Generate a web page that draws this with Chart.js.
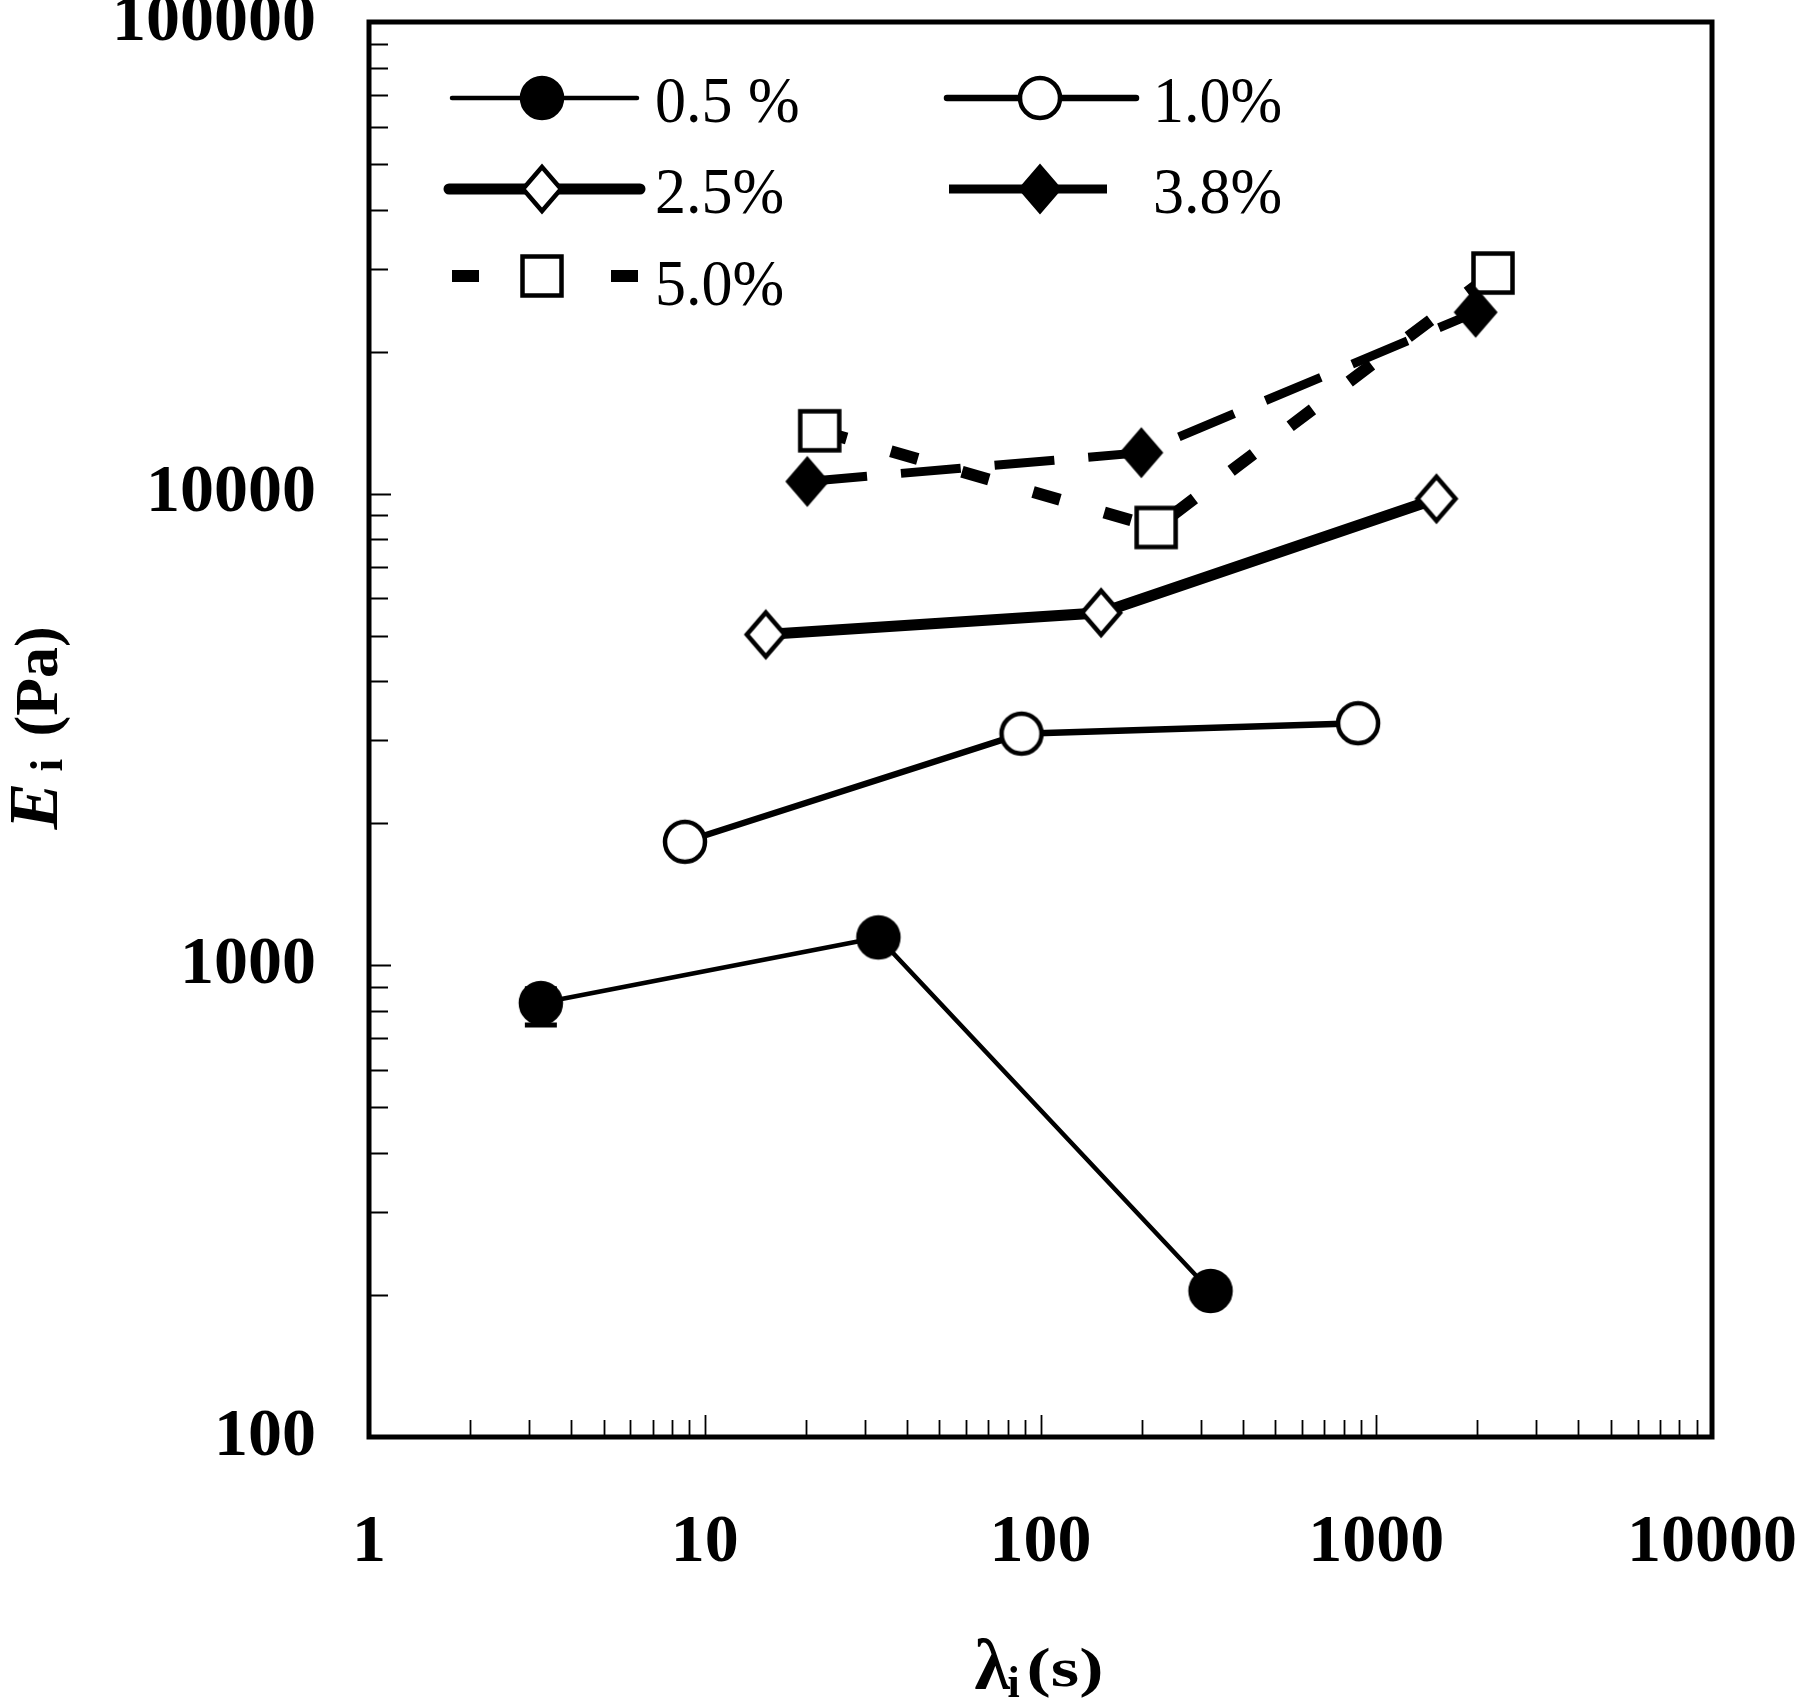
<!DOCTYPE html>
<html>
<head>
<meta charset="utf-8">
<script src="https://cdn.jsdelivr.net/npm/chart.js@4.4.0/dist/chart.umd.min.js"></script>
<style>
  html, body { margin: 0; padding: 0; background: #fff; }
  #wrap { position: relative; width: 1807px; height: 1704px; }
</style>
</head>
<body>
<div id="wrap"><canvas id="chart"></canvas></div>
<script>
// values (relaxation time vs modulus, log-log)
const seriesNames = ['0.5 %', '1.0%', '2.5%', '3.8%', '5.0%'];
const lambda05 = [3.25, 32.9, 321];
const modulus05 = [832, 1146, 204];
const error05Low = [85, 0, 0];
const error05High = [60, 0, 0];
const lambda10 = [8.73, 87.8, 883];
const modulus10 = [1828, 3099, 3261];
const lambda25 = [15.2, 151.5, 1511];
const modulus25 = [5027, 5593, 9757];
const lambda38 = [20.2, 199.7, 1977];
const modulus38 = [10614, 12217, 24240];
const lambda50 = [22.0, 221, 2227];
const modulus50 = [13595, 8478, 29360];
const xTicks = [1, 10, 100, 1000, 10000];
const yTicks = [100, 1000, 10000, 100000];

const FONT = '"Liberation Serif", "Times New Roman", Times, serif';

// marker images
function marker(shape, filled) {
  const c = document.createElement('canvas');
  c.width = 64; c.height = 64;
  const g = c.getContext('2d');
  g.translate(32, 32);
  g.beginPath();
  if (shape === 'circle') {
    g.arc(0, 0, 20, 0, Math.PI * 2);
  } else if (shape === 'diamond') {
    g.moveTo(0, -22); g.lineTo(19, 0); g.lineTo(0, 22); g.lineTo(-19, 0); g.closePath();
  } else {
    g.rect(-19.5, -19.5, 39, 39);
  }
  g.fillStyle = filled ? '#000' : '#fff';
  g.fill();
  g.lineWidth = 4.5;
  g.strokeStyle = '#000';
  g.stroke();
  return c;
}

const markers = [
  marker('circle', true),
  marker('circle', false),
  marker('diamond', false),
  marker('diamond', true),
  marker('square', false)
];

function pts(xs, ys) {
  return xs.map((x, i) => ({ x: x, y: ys[i] }));
}

function ds(i, xs, ys, width, dash) {
  return {
    label: seriesNames[i],
    data: pts(xs, ys),
    borderColor: '#000',
    backgroundColor: '#000',
    borderWidth: width,
    borderDash: dash,
    borderCapStyle: 'butt',
    pointStyle: markers[i],
    pointRadius: 22,
    tension: 0,
    clip: false
  };
}

// legend placement (pixels) -- line pieces either side of the marker
const legendItems = [
  { mx: 542, tx: 655, y: 98, ty: 122, cap: 'round', pieces: [[452, 637]] },
  { mx: 1040, tx: 1153, y: 98, ty: 122, cap: 'round', pieces: [[947, 1136]] },
  { mx: 542, tx: 655, y: 189, ty: 213, cap: 'round', pieces: [[449, 640]] },
  { mx: 1040, tx: 1153, y: 189, ty: 213, cap: 'butt', pieces: [[949, 1025], [1058, 1107]] },
  { mx: 542, tx: 655, y: 276, ty: 305, cap: 'butt', pieces: [[452, 479], [611, 638]] }
];

const framePlugin = {
  id: 'frame',
  beforeDatasetsDraw(chart) {
    const c = chart.ctx, xs = chart.scales.x, ys = chart.scales.y;
    c.save();
    c.strokeStyle = '#000';
    c.lineWidth = 5;
    lambda05.forEach((lx, i) => {
      if (!error05Low[i] && !error05High[i]) return;
      const px = xs.getPixelForValue(lx);
      const lo = ys.getPixelForValue(modulus05[i] - error05Low[i]);
      const hi = ys.getPixelForValue(modulus05[i] + error05High[i]);
      c.beginPath();
      c.moveTo(px, lo); c.lineTo(px, hi);
      c.moveTo(px - 16, lo); c.lineTo(px + 16, lo);
      c.moveTo(px - 16, hi); c.lineTo(px + 16, hi);
      c.stroke();
    });
    c.restore();
  },
  afterDraw(chart) {
    const c = chart.ctx, a = chart.chartArea;
    const xs = chart.scales.x, ys = chart.scales.y;
    c.save();
    c.strokeStyle = '#000';
    c.fillStyle = '#000';

    // inward minor / major ticks
    c.lineWidth = 1.8;
    c.beginPath();
    for (let d = 100; d < 100000; d *= 10) {
      for (let k = 1; k <= 9; k++) {
        const py = Math.round(ys.getPixelForValue(k * d)) + 0.5;
        const len = k === 1 ? 22 : 19;
        c.moveTo(a.left, py); c.lineTo(a.left + len, py);
      }
    }
    for (let d = 1; d < 10000; d *= 10) {
      for (let k = 1; k <= 9; k++) {
        const px = Math.round(xs.getPixelForValue(k * d)) + 0.5;
        const len = k === 1 ? 22 : 17;
        c.moveTo(px, a.bottom); c.lineTo(px, a.bottom - len);
      }
    }
    c.stroke();

    // plot box
    c.lineWidth = 5;
    c.strokeRect(a.left, a.top, a.right - a.left, a.bottom - a.top);

    // legend
    chart.data.datasets.forEach((d, i) => {
      const it = legendItems[i];
      c.save();
      c.lineWidth = d.borderWidth;
      c.lineCap = it.cap;
      c.beginPath();
      it.pieces.forEach(p => { c.moveTo(p[0], it.y); c.lineTo(p[1], it.y); });
      c.stroke();
      c.restore();
      const m = markers[i];
      c.drawImage(m, it.mx - m.width / 2, it.y - m.height / 2);
      c.save();
      c.translate(it.tx, it.ty);
      c.scale(1, 1.07);
      c.font = '62px ' + FONT;
      c.textAlign = 'left';
      c.textBaseline = 'alphabetic';
      c.fillText(d.label, 0, 0);
      c.restore();
    });

    // x title: lambda_i (s)
    const cx = (a.left + a.right) / 2;
    c.textBaseline = 'alphabetic';
    c.textAlign = 'left';
    c.font = 'bold 72px ' + FONT;
    c.fillText('λ', cx - 66, 1689);
    c.font = 'bold 44px ' + FONT;
    c.fillText('i', cx - 33, 1697);
    c.save();
    c.translate(cx - 14, 1686);
    c.scale(1.35, 1);
    c.font = 'bold 54px ' + FONT;
    c.fillText('(s)', 0, 0);
    c.restore();

    // y title: E_i (Pa), rotated
    const cy = (a.top + a.bottom) / 2;
    c.save();
    c.translate(57, cy + 100);
    c.rotate(-Math.PI / 2);
    c.font = 'italic bold 70px ' + FONT;
    c.fillText('E', 0, 0);
    c.font = 'bold 46px ' + FONT;
    c.fillText('i', 58, 5);
    c.font = 'bold 62px ' + FONT;
    c.fillText('(Pa)', 93, 0);
    c.restore();

    c.restore();
  }
};

const tickFont = { family: FONT, size: 68, weight: 'bold' };

function draw() {
  new Chart(document.getElementById('chart'), {
    type: 'line',
    data: {
      datasets: [
        ds(0, lambda05, modulus05, 4.5, []),
        ds(1, lambda10, modulus10, 6.5, []),
        ds(2, lambda25, modulus25, 11, []),
        ds(3, lambda38, modulus38, 9, [60, 34]),
        ds(4, lambda50, modulus50, 12, [28, 46])
      ]
    },
    options: {
      responsive: true,
      maintainAspectRatio: false,
      animation: false,
      events: [],
      layout: { autoPadding: false, padding: { top: 22, right: 95, left: 0, bottom: 0 } },
      plugins: { legend: { display: false }, tooltip: { enabled: false } },
      scales: {
        x: {
          type: 'logarithmic',
          min: 1,
          max: 10000,
          afterBuildTicks: s => { s.ticks = xTicks.map(v => ({ value: v, major: true })); },
          afterFit: s => { s.height = 267; s.paddingLeft = 0; s.paddingRight = 0; },
          grid: { display: false },
          border: { display: false },
          ticks: {
            color: '#000',
            font: tickFont,
            padding: 58,
            maxRotation: 0,
            autoSkip: false,
            callback: v => String(v)
          }
        },
        y: {
          type: 'logarithmic',
          min: 100,
          max: 100000,
          afterBuildTicks: s => { s.ticks = yTicks.map(v => ({ value: v, major: true })); },
          afterFit: s => { s.width = 369; s.paddingTop = 0; s.paddingBottom = 0; },
          grid: { display: false },
          border: { display: false },
          ticks: {
            color: '#000',
            font: tickFont,
            padding: 45,
            autoSkip: false,
            callback: v => String(v)
          }
        }
      }
    },
    plugins: [framePlugin]
  });
}

Promise.all([
  document.fonts.load('bold 68px "Liberation Serif"'),
  document.fonts.load('62px "Liberation Serif"'),
  document.fonts.load('italic bold 70px "Liberation Serif"')
]).then(draw, draw);
</script>
</body>
</html>
